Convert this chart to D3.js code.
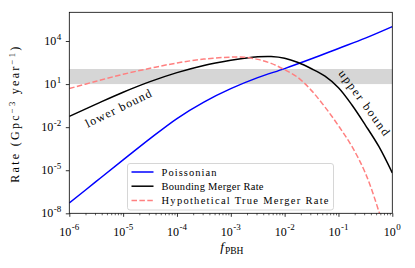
<!DOCTYPE html>
<html>
<head>
<meta charset="utf-8">
<script src="https://cdn.jsdelivr.net/npm/d3@7"></script>
<style>
  body { margin: 0; background: #fff; }
  text { font-family: "Liberation Serif", "DejaVu Serif", serif; fill: #000; }
</style>
</head>
<body>
<div id="chart"></div>
<script>
// values (f_PBH, rate in Gpc^-3 yr^-1)
const fPoisson = [1e-6, 3.16e-6, 1e-5, 3.16e-5, 1e-4, 3.16e-4, 1e-3, 3.16e-3, 1e-2, 3.16e-2, 0.1, 0.316, 1];
const ratePoisson = [5.2e-8, 1.66e-6, 5.2e-5, 1.58e-3, 0.040, 0.56, 4.8, 28, 120, 575, 3020, 15800, 1.0e5];

const fBound = [1e-6, 3.16e-6, 1e-5, 3.16e-5, 1e-4, 3.16e-4, 1e-3, 1.78e-3, 3.16e-3, 5.62e-3, 1e-2, 1.78e-2, 3.16e-2, 5.62e-2, 0.1, 0.178, 0.316, 0.562, 1];
const rateBound = [0.056, 0.40, 2.7, 14.8, 63, 200, 457, 630, 794, 832, 631, 316, 117, 35.5, 5.6, 0.35, 0.014, 4.5e-4, 6.5e-6];

const fTrue = [1e-6, 3.16e-6, 1e-5, 3.16e-5, 1e-4, 3.16e-4, 1e-3, 1.78e-3, 3.16e-3, 5.62e-3, 1e-2, 1.78e-2, 3.16e-2, 5.62e-2, 0.1, 0.178, 0.316, 0.562, 1];
const rateTrue = [4.9, 15.8, 48, 126, 295, 550, 760, 740, 525, 275, 100, 28, 3.5, 0.25, 0.0126, 4.5e-4, 6.3e-6, 1.4e-8, 1e-11];

const band = [10, 112];

const xTicks = [1e-6, 1e-5, 1e-4, 1e-3, 1e-2, 1e-1, 1];
const xTickExp = ["-6", "-5", "-4", "-3", "-2", "-1", "0"];
const yTicks = [1e-8, 1e-5, 1e-2, 1e1, 1e4];
const yTickExp = ["-8", "-5", "-2", "1", "4"];

const seriesNames = ["Poissonian", "Bounding Merger Rate", "Hypothetical True Merger Rate"];

const W = 415, H = 268;
const margin = { top: 12.3, right: 22.7, bottom: 54.7, left: 69.3 };
const width = W - margin.left - margin.right;
const height = H - margin.top - margin.bottom;

const svg = d3.select("#chart").append("svg").attr("width", W).attr("height", H);
const g = svg.append("g").attr("transform", `translate(${margin.left},${margin.top})`);

const xscale = d3.scaleLog().domain([1e-6, 1]).range([0, width]);
const yscale = d3.scaleLog().domain([1e-8, 1e6]).range([height, 0]);

g.append("clipPath").attr("id", "clip").append("rect")
    .attr("width", width).attr("height", height);

// observed band
g.append("rect")
    .attr("x", 0).attr("width", width)
    .attr("y", yscale(band[1])).attr("height", yscale(band[0]) - yscale(band[1]))
    .attr("fill", "#d6d6d6");

const line = d3.line().curve(d3.curveCatmullRom.alpha(0.5));
const plot = g.append("g").attr("clip-path", "url(#clip)");

function series(fs, rs) {
    return fs.map((f, i) => [xscale(f), yscale(rs[i])]);
}

plot.append("path").attr("d", line(series(fPoisson, ratePoisson)))
    .attr("fill", "none").attr("stroke", "#0000ff").attr("stroke-width", 1.5);
plot.append("path").attr("d", line(series(fBound, rateBound)))
    .attr("fill", "none").attr("stroke", "#000").attr("stroke-width", 1.5);
plot.append("path").attr("d", line(series(fTrue, rateTrue)))
    .attr("fill", "none").attr("stroke", "#ff8080").attr("stroke-width", 1.5)
    .attr("stroke-dasharray", "5.5,2.4");

// curve labels
g.append("text").attr("transform", `translate(${120 - margin.left},${112 - margin.top}) rotate(-26)`)
    .attr("text-anchor", "middle").style("font-size", "12px")
    .attr("textLength", 72).attr("lengthAdjust", "spacing").text("lower bound");
g.append("text").attr("transform", `translate(${361 - margin.left},${105 - margin.top}) rotate(54)`)
    .attr("text-anchor", "middle").style("font-size", "12px")
    .attr("textLength", 78).attr("lengthAdjust", "spacing").text("upper bound");

// axes
const minorX = [];
for (let e = -6; e < 0; e++) {
    for (let k = 2; k <= 9; k++) minorX.push(+(k + "e" + e));
}
g.append("g").attr("transform", `translate(0,${height})`)
    .call(d3.axisBottom(xscale).tickValues(minorX).tickSize(2).tickFormat(""))
    .call(a => a.select(".domain").remove())
    .selectAll("line").attr("stroke-width", 0.6);
const gx = g.append("g").attr("transform", `translate(0,${height})`)
    .call(d3.axisBottom(xscale).tickValues(xTicks).tickSize(3.5).tickFormat(""));
gx.select(".domain").remove();
gx.selectAll("line").attr("stroke-width", 0.8);

const gy = g.append("g")
    .call(d3.axisLeft(yscale).tickValues(yTicks).tickSize(3.5).tickFormat(""));
gy.select(".domain").remove();
gy.selectAll("line").attr("stroke-width", 0.8);

// tick labels with superscripts
xTicks.forEach((t, i) => {
    const tx = g.append("text").attr("x", xscale(t)).attr("y", height + 22.5)
        .attr("text-anchor", "middle").style("font-size", "12px");
    tx.append("tspan").text("10");
    tx.append("tspan").attr("dy", -5.5).attr("dx", 0.5).style("font-size", "9px").text(xTickExp[i]);
});
yTicks.forEach((t, i) => {
    const ty = g.append("text").attr("x", -8).attr("y", yscale(t) + 4)
        .attr("text-anchor", "end").style("font-size", "12px");
    ty.append("tspan").text("10");
    ty.append("tspan").attr("dy", -5.5).attr("dx", 0.5).style("font-size", "9px").text(yTickExp[i]);
});

// frame
g.append("rect").attr("width", width).attr("height", height)
    .attr("fill", "none").attr("stroke", "#000").attr("stroke-width", 0.8);

// axis titles
const xl = g.append("text").attr("x", width / 2 + 1).attr("y", height + 37.5)
    .attr("text-anchor", "middle").style("font-size", "13.5px");
xl.append("tspan").style("font-style", "italic").text("f");
xl.append("tspan").attr("dy", 3.5).attr("dx", 1).style("font-size", "9.5px").text("PBH");

const yl = g.append("text").attr("transform", `translate(${19 - margin.left},${height / 2 + 2}) rotate(-90)`)
    .attr("text-anchor", "middle").style("font-size", "12px")
    .attr("textLength", 136).attr("lengthAdjust", "spacing");
yl.append("tspan").text("Rate (Gpc");
yl.append("tspan").attr("dy", -4.5).style("font-size", "8.5px").text("\u22123");
yl.append("tspan").attr("dy", 4.5).text(" year");
yl.append("tspan").attr("dy", -4.5).style("font-size", "8.5px").text("\u22121");
yl.append("tspan").attr("dy", 4.5).text(")");

// legend
const lg = g.append("g").attr("transform", `translate(${127.5 - margin.left},${163.5 - margin.top})`);
lg.append("rect").attr("width", 206).attr("height", 46.5).attr("rx", 2.5)
    .attr("fill", "#fff").attr("fill-opacity", 0.8).attr("stroke", "#ccc").attr("stroke-width", 0.8);
const legendStyles = [
    { color: "#0000ff", dash: null, len: 55 },
    { color: "#000", dash: null, len: 102 },
    { color: "#ff8080", dash: "5.5,2.4", len: 167 }
];
seriesNames.forEach((name, i) => {
    const yy = 8.5 + i * 14.2;
    lg.append("line").attr("x1", 4).attr("x2", 26).attr("y1", yy).attr("y2", yy)
        .attr("stroke", legendStyles[i].color).attr("stroke-width", 1.5)
        .attr("stroke-dasharray", legendStyles[i].dash);
    lg.append("text").attr("x", 34).attr("y", yy + 3.5).style("font-size", "10.5px")
        .attr("textLength", legendStyles[i].len).attr("lengthAdjust", "spacing").text(name);
});
</script>
</body>
</html>
